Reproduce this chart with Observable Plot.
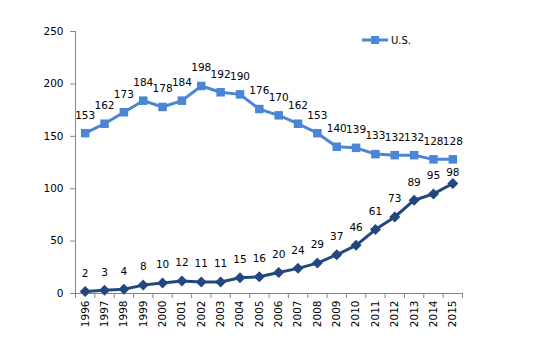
<!DOCTYPE html>
<html>
<head>
<meta charset="utf-8">
<script src="https://cdn.jsdelivr.net/npm/d3@7"></script>
<script src="https://cdn.jsdelivr.net/npm/@observablehq/plot@0.6"></script>
<style>
  html, body { margin: 0; padding: 0; background: #fff; }
  #wrap { position: relative; width: 542px; height: 354px; font-family: "DejaVu Sans", sans-serif; }
  #legend { position: absolute; left: 361px; top: 34px; display: flex; align-items: center; font-size: 10px; color: #000; }
</style>
</head>
<body>
<div id="wrap">
  <div id="chart"></div>
  <div id="legend">
    <svg width="28" height="12"><line x1="1" y1="6" x2="27" y2="6" stroke="#4A86D6" stroke-width="3"/><rect x="10" y="2" width="8" height="8" fill="#4A86D6"/></svg>
    <span style="margin-left:2px">U.S.</span>
  </div>
</div>
<script>
const years = [1996,1997,1998,1999,2000,2001,2002,2003,2004,2005,2006,2007,2008,2009,2010,2011,2012,2013,2014,2015];
const usValues = [153,162,173,184,178,184,198,192,190,176,170,162,153,140,139,133,132,132,128,128];
const usLabels = ["153","162","173","184","178","184","198","192","190","176","170","162","153","140","139","133","132","132","128","128"];
const otherValues = [2,3,4,8,10,12,11,11,15,16,20,24,29,37,46,61,73,89,95,105];
const otherLabels = ["2","3","4","8","10","12","11","11","15","16","20","24","29","37","46","61","73","89","95","98"];
const yTicks = [0,50,100,150,200,250];

const us = years.map((y,i) => ({year: y, value: usValues[i], label: usLabels[i]}));
const other = years.map((y,i) => ({year: y, value: otherValues[i], label: otherLabels[i]}));
const bounds = d3.range(years.length + 1).map(i => years[0] - 0.5 + i);

const light = "#4A86D6", dark = "#23477F", axisColor = "#868686";

const chart = Plot.plot({
  width: 542,
  height: 354,
  marginLeft: 75,
  marginRight: 80,
  marginTop: 31,
  marginBottom: 61,
  style: {fontFamily: "DejaVu Sans, sans-serif", fontSize: "10.5px", color: "#000", background: "#fff"},
  x: {type: "linear", domain: [bounds[0], bounds[bounds.length-1]]},
  y: {domain: [0, 250]},
  marks: [
    Plot.ruleX([bounds[0]], {stroke: axisColor}),
    Plot.ruleY([0], {stroke: axisColor}),
    Plot.axisY({ticks: yTicks, tickSize: 5, tickPadding: 7, stroke: axisColor, label: null, fill: "#000"}),
    Plot.axisX({ticks: bounds, tickSize: 5, tickFormat: () => "", stroke: axisColor, label: null}),
    Plot.axisX({ticks: years, tickSize: 0, tickPadding: 7, tickRotate: -90, tickFormat: d => String(d), label: null, fill: "#000"}),
    Plot.line(other, {x: "year", y: "value", stroke: dark, strokeWidth: 3}),
    Plot.dot(other, {x: "year", y: "value", symbol: "diamond2", fill: dark, stroke: dark, r: 4}),
    Plot.text(other, {x: "year", y: d => +d.label, text: "label", dy: -18, fill: "#000"}),
    Plot.line(us, {x: "year", y: "value", stroke: light, strokeWidth: 3}),
    Plot.dot(us, {x: "year", y: "value", symbol: "square", fill: light, r: 4.8}),
    Plot.text(us, {x: "year", y: d => +d.label, text: "label", dy: -18, fill: "#000"})
  ]
});
document.getElementById("chart").appendChild(chart);
</script>
</body>
</html>
